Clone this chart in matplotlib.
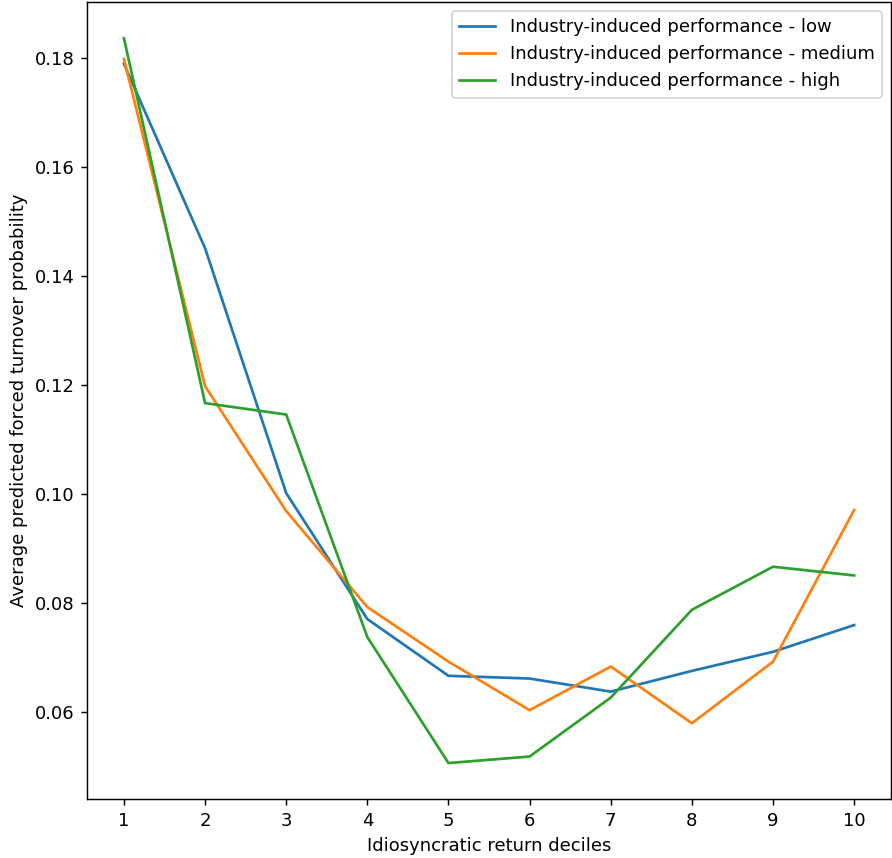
import matplotlib
matplotlib.use("Agg")
import matplotlib.pyplot as plt

deciles = [1, 2, 3, 4, 5, 6, 7, 8, 9, 10]
low = [0.1789, 0.1451, 0.1002, 0.0771, 0.0667, 0.0662, 0.0638, 0.0676, 0.0711, 0.0760]
medium = [0.1798, 0.1198, 0.0969, 0.0793, 0.0693, 0.0604, 0.0684, 0.0580, 0.0693, 0.0971]
high = [0.1836, 0.1167, 0.1146, 0.0738, 0.0507, 0.0519, 0.0627, 0.0788, 0.0867, 0.0851]
labels = ["Industry-induced performance - low",
          "Industry-induced performance - medium",
          "Industry-induced performance - high"]

DPI = 130
fig = plt.figure(figsize=(892 / DPI, 858 / DPI), dpi=DPI)
ax = fig.add_axes([0.098, 0.0684, 0.9005, 0.9293])
ax.plot(deciles, low, label=labels[0])
ax.plot(deciles, medium, label=labels[1])
ax.plot(deciles, high, label=labels[2])
ax.set_xticks(deciles)
ax.set_xlabel("Idiosyncratic return deciles")
ax.set_ylabel("Average predicted forced turnover probability")
ax.legend(loc="upper right")
fig.savefig("out.png", dpi=DPI)
